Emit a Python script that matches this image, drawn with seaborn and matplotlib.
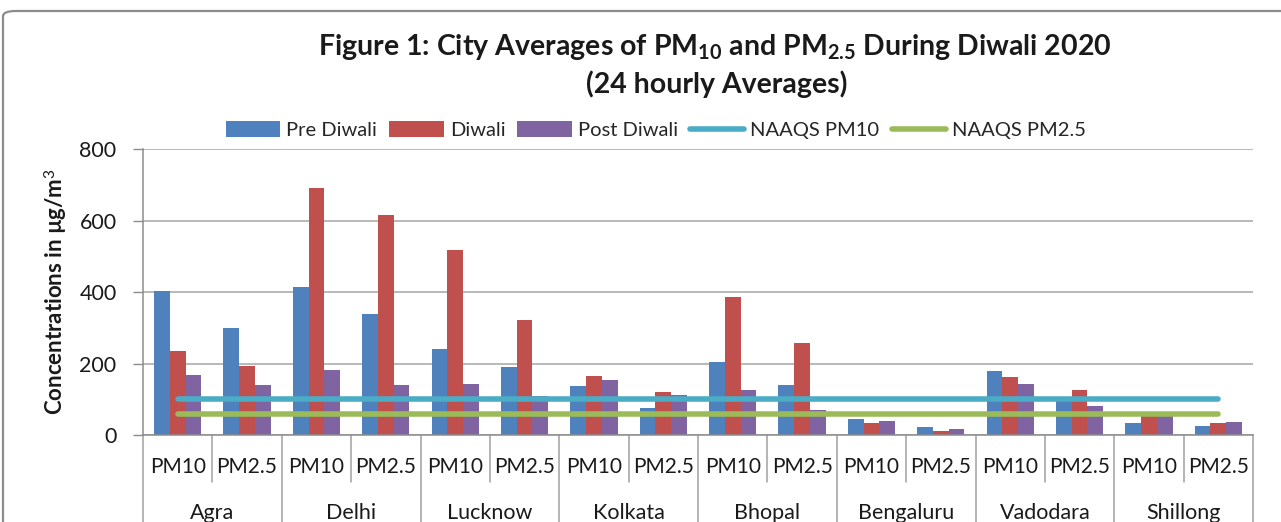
import numpy as np
import pandas as pd
import seaborn as sns
import matplotlib
matplotlib.use("Agg")
import matplotlib.pyplot as plt
from matplotlib.patches import Patch, FancyBboxPatch
from matplotlib.lines import Line2D
import matplotlib.transforms as mtransforms

# ---------------- data ----------------
cities = ["Agra", "Delhi", "Lucknow", "Kolkata", "Bhopal", "Bengaluru", "Vadodara", "Shillong"]
pollutants = ["PM10", "PM2.5"]
periods = ["Pre Diwali", "Diwali", "Post Diwali"]
pre_diwali = [402, 298, 413, 339, 241, 190, 137, 76, 205, 141, 44, 22, 179, 97, 33, 25]
diwali = [234, 194, 690, 614, 518, 323, 166, 119, 385, 256, 33, 11, 161, 126, 58, 33]
post_diwali = [169, 141, 181, 141, 144, 108, 155, 111, 127, 69, 40, 16, 144, 80, 57, 36]
naaqs_pm10 = 100
naaqs_pm25 = 60
y_ticks = [0, 200, 400, 600, 800]

# ---------------- build frames ----------------
keys = [f"{c}|{p}" for c in cities for p in pollutants]
sub_labels = [p for c in cities for p in pollutants]
rows = []
for per, vals in zip(periods, [pre_diwali, diwali, post_diwali]):
    for k, v in zip(keys, vals):
        rows.append({"key": k, "period": per, "value": v})
df = pd.DataFrame(rows)
pos = np.arange(len(keys))
df_lines = pd.DataFrame({
    "x": np.concatenate([pos, pos]),
    "y": [naaqs_pm10] * len(keys) + [naaqs_pm25] * len(keys),
    "series": ["NAAQS PM10"] * len(keys) + ["NAAQS PM2.5"] * len(keys),
})

bar_colors = ["#4F81BD", "#C0504D", "#8064A2"]
line_colors = ["#4BACC6", "#9BBB59"]

sns.set_theme(style="white")
plt.rcParams["font.family"] = ["Lato", "DejaVu Sans"]
plt.rcParams["mathtext.fontset"] = "custom"
plt.rcParams["mathtext.rm"] = "Lato"
plt.rcParams["mathtext.it"] = "Lato:italic"
plt.rcParams["mathtext.bf"] = "Lato:bold"

W, H = 1281, 522
fig = plt.figure(figsize=(W / 100, H / 100), dpi=100)
fig.patch.set_facecolor("white")

left, right, top, bottom = 143, 1253, 149, 435
ax = fig.add_axes([left / W, 1 - bottom / H, (right - left) / W, (bottom - top) / H])

sns.barplot(data=df, x="key", y="value", hue="period", order=keys, hue_order=periods,
            palette=bar_colors, width=0.68, gap=0, linewidth=0, saturation=1,
            legend=False, ax=ax, zorder=2)
sns.lineplot(data=df_lines, x="x", y="y", hue="series", palette=line_colors,
             linewidth=4, legend=False, ax=ax, zorder=3, solid_capstyle="round")

ax.set_xlim(-0.5, len(keys) - 0.5)
ax.set_ylim(0, 800)
ax.set_yticks(y_ticks)
ax.set_yticklabels([str(t) for t in y_ticks], fontsize=15.5, color="#1a1a1a")
ax.yaxis.grid(True, color="#A6A6A6", linewidth=1.1, zorder=0)
ax.set_axisbelow(True)
ax.tick_params(axis="y", which="major", length=7, width=1, color="#8C8C8C", left=True, pad=12)
ax.set_xticks(pos)
ax.set_xticklabels(sub_labels, fontsize=15, color="#1a1a1a")
ax.tick_params(axis="x", length=0, pad=16)
ax.set_xlabel("")
ax.set_ylabel("Concentrations in µg/m$^3$", fontsize=16, fontweight="bold", labelpad=7, color="#1a1a1a")
for s in ["top", "right"]:
    ax.spines[s].set_visible(False)
for s in ["left", "bottom"]:
    ax.spines[s].set_color("#8C8C8C")
    ax.spines[s].set_linewidth(1.1)

# two-level category separators and city labels
trans = mtransforms.blended_transform_factory(ax.transData, ax.transAxes)
ax_h = bottom - top
for i in range(len(keys) + 1):
    xb = i - 0.5
    y_end = -0.40 if i % 2 == 0 else -(482 - bottom) / ax_h
    ax.add_line(Line2D([xb, xb], [0, y_end], transform=trans, color="#A0A0A0",
                       linewidth=1.1, clip_on=False))
city_y = -(513 - bottom) / ax_h
for j, c in enumerate(cities):
    ax.text(2 * j + 0.5, city_y, c, transform=trans, ha="center", va="center",
            fontsize=15.5, color="#1a1a1a", clip_on=False)

# title
fig.text(715 / W, 1 - 47 / H, r"Figure 1: City Averages of PM$_{\mathbf{10}}$ and PM$_{\mathbf{2.5}}$ During Diwali 2020",
         ha="center", va="center", fontsize=20.5, fontweight="bold", color="#1a1a1a")
fig.text(717 / W, 1 - 84 / H, "(24 hourly Averages)", ha="center", va="center",
         fontsize=20.5, fontweight="bold", color="#1a1a1a")

# legend
handles = [Patch(facecolor=c, edgecolor="none") for c in bar_colors] + \
          [Line2D([0], [0], color=c, linewidth=4) for c in line_colors]
labels = periods + ["NAAQS PM10", "NAAQS PM2.5"]
fig.legend(handles, labels, loc="center", bbox_to_anchor=(656 / W, 1 - 130 / H), ncol=5,
           frameon=False, fontsize=14.5, handlelength=2.7, handleheight=0.8,
           handletextpad=0.3, columnspacing=0.6, borderaxespad=0)

# chart border
border = FancyBboxPatch((3 / W, -0.1), 1.2, 1 - 11 / H + 0.1, boxstyle="round,pad=0,rounding_size=0.01",
                        transform=fig.transFigure, facecolor="none", edgecolor="#8C8C8C",
                        linewidth=1.6, clip_on=False)
fig.patches.append(border)

fig.savefig("out.png", dpi=100, facecolor="white")
